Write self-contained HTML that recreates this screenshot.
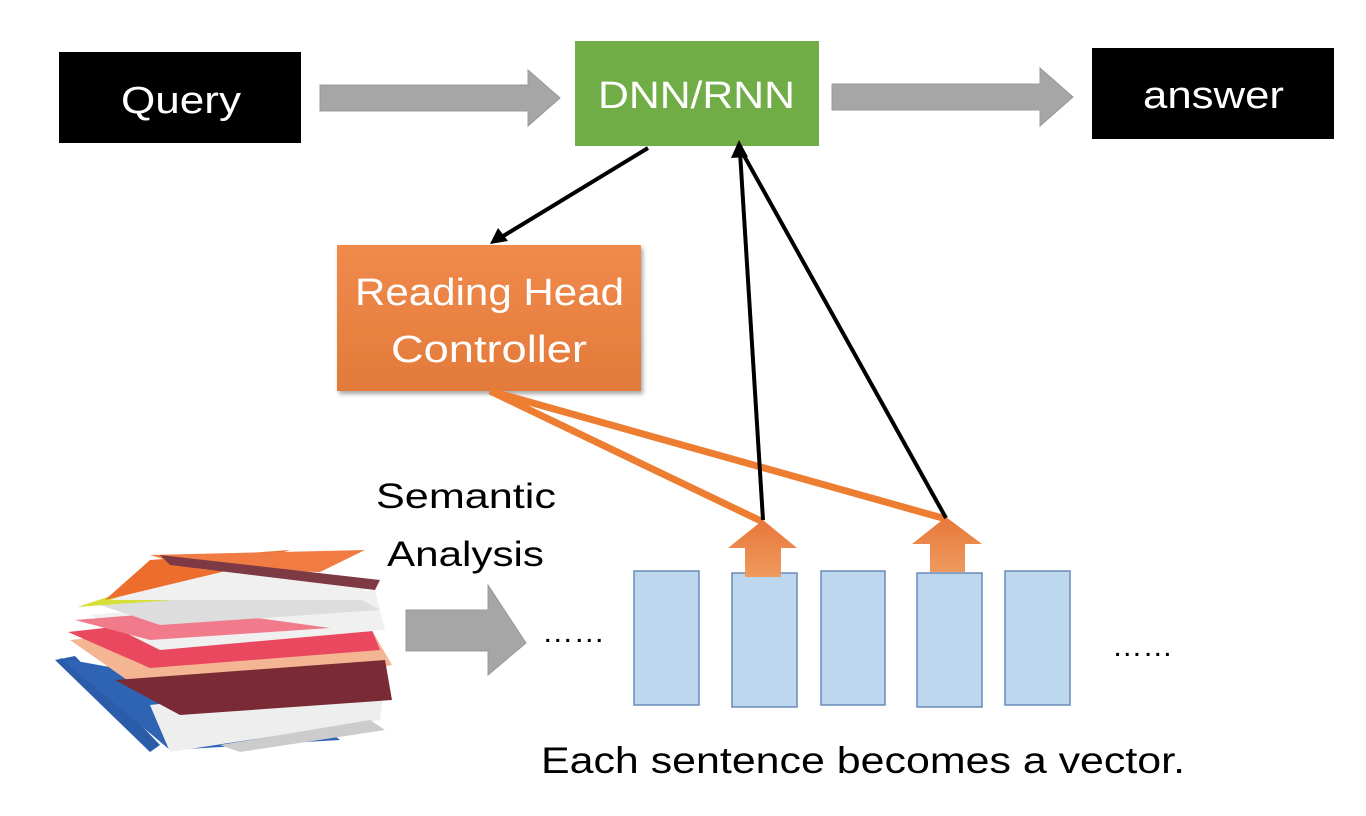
<!DOCTYPE html>
<html><head><style>
html,body{margin:0;padding:0;background:#fff;width:1366px;height:816px;overflow:hidden}
svg{display:block}
text{font-family:"Liberation Sans","DejaVu Sans",sans-serif}
</style></head><body>
<svg width="1366" height="816" viewBox="0 0 1366 816" xmlns="http://www.w3.org/2000/svg">
<defs>
<filter id="sh" x="-10%" y="-10%" width="130%" height="130%"><feDropShadow dx="2" dy="3" stdDeviation="2" flood-opacity="0.35"/></filter>
<linearGradient id="og" x1="0" y1="0" x2="0" y2="1"><stop offset="0" stop-color="#e8773a"/><stop offset="1" stop-color="#ee9a5e"/></linearGradient>
<linearGradient id="rh" x1="0" y1="0" x2="0" y2="1"><stop offset="0" stop-color="#f08a4b"/><stop offset="1" stop-color="#e27a3a"/></linearGradient>
</defs>
<rect x="59" y="52" width="242" height="91" fill="#000"/>
<text x="121" y="113" font-size="38" fill="#fff" textLength="120" lengthAdjust="spacingAndGlyphs">Query</text>
<rect x="1092" y="48" width="242" height="91" fill="#000"/>
<text x="1143" y="108" font-size="38" fill="#fff" textLength="141" lengthAdjust="spacingAndGlyphs">answer</text>
<rect x="575" y="41" width="244" height="105" fill="#70ad47"/>
<text x="598" y="108" font-size="38" fill="#fff" textLength="197" lengthAdjust="spacingAndGlyphs">DNN/RNN</text>
<polygon points="320,85 528,85 528,70 560,98 528,126 528,111 320,111" fill="#a6a6a6" stroke="#999"/>
<polygon points="832,84 1040,84 1040,68 1073,97 1040,126 1040,110 832,110" fill="#a6a6a6" stroke="#999"/>
<polygon points="406,610 488,610 488,585 526,643 488,675 488,651 406,651" fill="#a6a6a6" stroke="#999"/>
<rect x="337" y="245" width="304" height="146" fill="url(#rh)" filter="url(#sh)"/>
<text x="355" y="305" font-size="38" fill="#fff" textLength="269" lengthAdjust="spacingAndGlyphs">Reading Head</text>
<text x="391" y="362" font-size="38" fill="#fff" textLength="196" lengthAdjust="spacingAndGlyphs">Controller</text>
<line x1="490" y1="391" x2="763" y2="522" stroke="#ed7d31" stroke-width="7"/>
<line x1="490" y1="391" x2="946" y2="519" stroke="#ed7d31" stroke-width="7"/>
<g fill="#bdd7ee" stroke="#6a8ab5" stroke-width="1.5">
<rect x="634" y="571" width="65" height="134"/>
<rect x="732" y="573" width="65" height="134"/>
<rect x="821" y="571" width="64" height="134"/>
<rect x="917" y="573" width="65" height="134"/>
<rect x="1005" y="571" width="65" height="134"/>
</g>
<polygon points="763,520 797,548 781,548 781,577 745,577 745,548 728,548" fill="url(#og)"/>
<polygon points="946,517 982,544 965,544 965,572 930,572 930,544 912,544" fill="url(#og)"/>
<g stroke="#000" stroke-width="4" fill="none">
<line x1="648" y1="148" x2="500" y2="238"/>
<line x1="763" y1="520" x2="740" y2="152"/>
<line x1="946" y1="518" x2="742" y2="152"/>
</g>
<polygon points="490,244 498,228 508,241" fill="#000"/>
<polygon points="739,140 731,158 748,157" fill="#000"/>
<text x="376" y="508" font-size="35" fill="#000" textLength="180" lengthAdjust="spacingAndGlyphs">Semantic</text>
<text x="387" y="566" font-size="35" fill="#000" textLength="157" lengthAdjust="spacingAndGlyphs">Analysis</text>
<text x="542" y="642" font-size="30" fill="#000" textLength="63" lengthAdjust="spacingAndGlyphs">……</text>
<text x="1112" y="656" font-size="30" fill="#000" textLength="61" lengthAdjust="spacingAndGlyphs">……</text>
<text x="541" y="773" font-size="37" fill="#000" textLength="644" lengthAdjust="spacingAndGlyphs">Each sentence becomes a vector.</text>
<g>
<polygon points="55,660 75,656 160,745 150,752" fill="#2a5caa"/>
<polygon points="60,658 290,700 340,740 170,750" fill="#2f63b3"/>
<polygon points="150,705 385,680 380,720 170,752" fill="#eee"/>
<polygon points="70,640 360,610 392,665 170,710" fill="#f4b593"/>
<polygon points="115,680 385,660 392,700 180,715" fill="#7a2a35"/>
<polygon points="68,632 360,600 380,650 150,668" fill="#e9485e"/>
<polygon points="90,615 375,590 385,630 160,650" fill="#f0f0f0"/>
<polygon points="75,620 200,610 330,628 150,640" fill="#f17a8b"/>
<polygon points="100,605 330,582 380,610 160,625" fill="#ddd"/>
<polygon points="77,607 160,580 330,575 200,598" fill="#d6e03a"/>
<polygon points="110,600 215,565 370,580 360,600" fill="#f0f0f0"/>
<polygon points="105,600 150,560 290,550 230,570" fill="#ec6d2c"/>
<polygon points="150,555 365,550 320,572 200,570" fill="#f07b43"/>
<polygon points="160,555 380,580 375,590 170,565" fill="#7d3a45"/>
<polygon points="220,745 370,720 385,730 240,752" fill="#ccc"/>
</g>
</svg>
</body></html>
